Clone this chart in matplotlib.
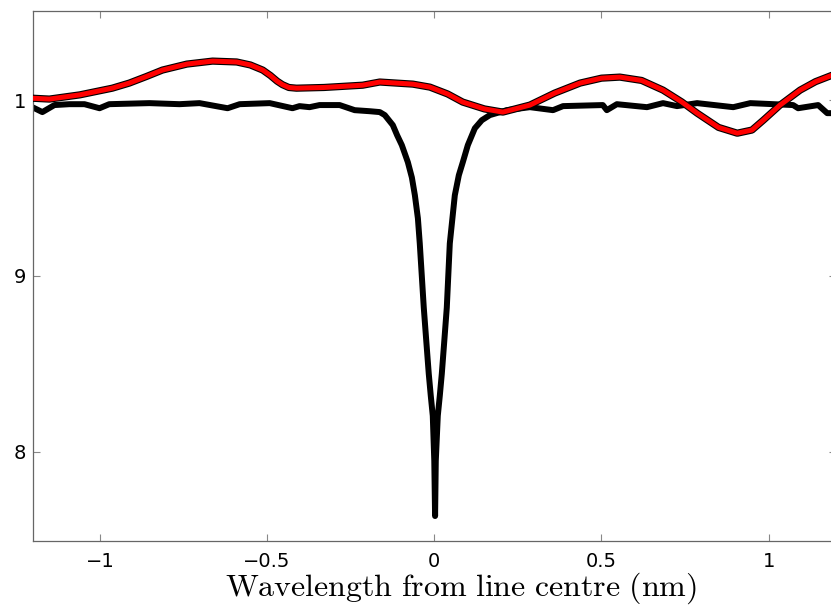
import numpy as np
import matplotlib
matplotlib.use('Agg')
import matplotlib.pyplot as plt

# spectrum with absorption line (black)
line_x = [-1.202, -1.172, -1.136, -1.091, -1.046, -1.001, -0.972, -0.852, -0.762, -0.702,
          -0.618, -0.582, -0.492, -0.424, -0.403, -0.373, -0.343, -0.283, -0.238, -0.193,
          -0.163, -0.148, -0.124, -0.111, -0.097, -0.079, -0.067, -0.058, -0.049, -0.0434,
          -0.0374, -0.0314, -0.024, -0.0165, -0.0105, -0.0045, 0.0, 0.0024, 0.0045, 0.0105,
          0.0165, 0.0225, 0.030, 0.0374, 0.0419, 0.0464, 0.0614, 0.0734, 0.0853, 0.1003,
          0.1213, 0.1422, 0.1662, 0.217, 0.286, 0.355, 0.385, 0.504, 0.516, 0.546,
          0.636, 0.684, 0.726, 0.786, 0.894, 0.945, 1.073, 1.088, 1.148, 1.175, 1.190]
line_y = [0.996, 0.9932, 0.9972, 0.9977, 0.9977, 0.9954, 0.9977, 0.9983, 0.9977, 0.9983,
          0.9954, 0.9977, 0.9983, 0.9954, 0.9966, 0.996, 0.9972, 0.9972, 0.9943, 0.9937,
          0.9932, 0.9915, 0.9858, 0.980, 0.9744, 0.9647, 0.956, 0.9459, 0.9328, 0.9185,
          0.9003, 0.882, 0.8632, 0.8444, 0.8319, 0.8205, 0.7949, 0.7635, 0.7949, 0.8205,
          0.8319, 0.8444, 0.8632, 0.882, 0.9003, 0.9185, 0.9459, 0.9573, 0.9647, 0.9744,
          0.984, 0.9886, 0.9915, 0.9943, 0.996, 0.9943, 0.9966, 0.9972, 0.9943, 0.9977,
          0.996, 0.9983, 0.9966, 0.9983, 0.996, 0.9983, 0.9972, 0.9954, 0.9972, 0.9926, 0.9926]

# smooth comparison spectrum (red)
red_x = [-1.202, -1.151, -1.06, -0.963, -0.912, -0.86, -0.813, -0.74, -0.663, -0.591,
         -0.55, -0.513, -0.49, -0.47, -0.454, -0.435, -0.412, -0.33, -0.214, -0.163,
         -0.064, -0.013, 0.04, 0.085, 0.15, 0.205, 0.286, 0.36, 0.436, 0.50,
         0.555, 0.62, 0.684, 0.74, 0.786, 0.85, 0.906, 0.95, 0.984, 1.034,
         1.094, 1.14, 1.190]
red_y = [1.0011, 1.0006, 1.003, 1.0068, 1.0097, 1.0135, 1.0171, 1.0205, 1.0222, 1.0217,
         1.0200, 1.0171, 1.0140, 1.0108, 1.0088, 1.0072, 1.0068, 1.0072, 1.0085, 1.0103,
         1.0091, 1.0074, 1.0035, 0.9989, 0.995, 0.9932, 0.9972, 1.004, 1.0097, 1.0125,
         1.0131, 1.0112, 1.0057, 0.999, 0.9926, 0.9845, 0.9812, 0.9830, 0.9886, 0.9972,
         1.0057, 1.0105, 1.0142]

xticks = [-1, -0.5, 0, 0.5, 1]
xticklabels = ['\u22121', '\u22120.5', '0', '0.5', '1']
yticks = [0.8, 0.9, 1.0]
yticklabels = ['8', '9', '1']

plt.rcParams['mathtext.fontset'] = 'cm'

fig = plt.figure(figsize=(8.31, 6.10), dpi=100)
ax = fig.add_axes([0.0397, 0.1131, 0.9658, 0.8689])

ax.plot(line_x, line_y, color='black', lw=4.3, solid_joinstyle='round', zorder=2)
ax.plot(red_x, red_y, color='black', lw=5.2, solid_joinstyle='round', zorder=3)
ax.plot(red_x, red_y, color='#ff0000', lw=3.6, solid_joinstyle='round', zorder=4)

ax.set_xlim(-1.2, 1.2)
ax.set_ylim(0.7493, 1.0507)

ax.set_xticks(xticks)
ax.set_xticklabels(xticklabels, fontfamily='DejaVu Sans', fontsize=14)
ax.set_yticks(yticks)
ax.set_yticklabels(yticklabels, fontfamily='DejaVu Sans', fontsize=14)
ax.tick_params(direction='in', length=5, width=0.8, color='#888888', top=True, right=True)
ax.tick_params(axis='x', pad=8)
ax.tick_params(axis='y', pad=5)
for s in ax.spines.values():
    s.set_color('#666666')
    s.set_linewidth(0.9)

ax.set_xlabel(r'$\mathrm{Wavelength\ from\ line\ centre\ (nm)}$', fontsize=23, labelpad=-4)
ax.xaxis.set_label_coords(0.533, -0.056)
ax.xaxis.label.set_verticalalignment('top')

fig.savefig('out.png', dpi=100)
